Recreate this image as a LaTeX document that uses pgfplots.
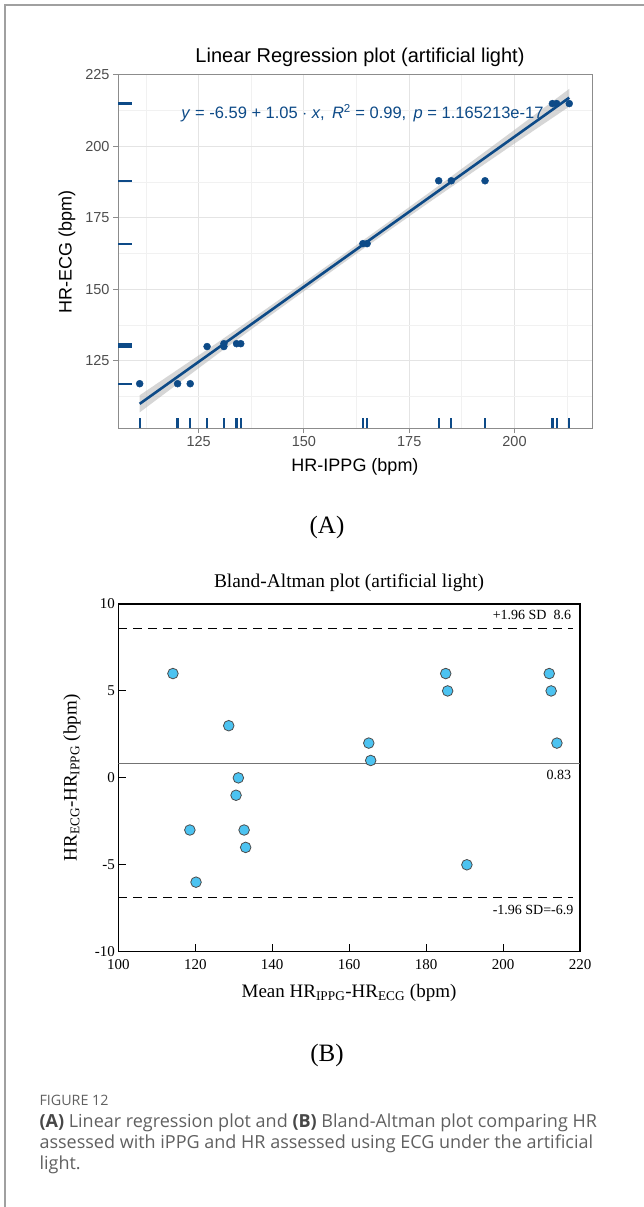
\documentclass[border=0pt]{standalone}
\usepackage{pgfplots}
\pgfplotsset{compat=1.18}
\usepackage{pgfplotstable}
\usepackage{fontspec}
\setmainfont{Liberation Serif}
\newfontfamily\arialfont{Liberation Sans}
\newfontfamily\capfont{Open Sans}

\definecolor{regblue}{HTML}{0D4A87}
\definecolor{ribbon}{HTML}{B4B4B4}
\definecolor{gridmaj}{HTML}{E4E4E4}
\definecolor{gridmin}{HTML}{F1F1F1}
\definecolor{panel}{HTML}{8C8C8C}
\definecolor{ticktxt}{HTML}{4D4D4D}
\definecolor{bafill}{HTML}{4CC3F1}
\definecolor{capgray}{HTML}{606060}
\definecolor{pageframe}{HTML}{A0A0A0}

% HR-IPPG vs HR-ECG (bpm)
\pgfplotstableread{
ippg ecg
111 117
120 117
123 117
127 130
131 130
131 131
134 131
135 131
164 166
165 166
182 188
185 188
193 188
209 215
210 215
213 215
}\regdata

% Bland-Altman: mean, difference
\pgfplotstableread{
mean diff
114.2 6
118.6 -3
120.2 -6
128.7 3
130.6 -1
131.2 0
132.7 -3
133.1 -4
165.1 2
165.6 1
185.1 6
185.6 5
190.6 -5
212.0 6
212.5 5
214.0 2
}\badata

\begin{document}
\begin{tikzpicture}
\path[use as bounding box] (0,0) rectangle (644pt,-1207pt);
\draw[pageframe, line width=1.5pt] (5pt,-1207pt) -- (5pt,-5pt) -- (644pt,-5pt);

% ---------- (A) linear regression ----------
\begin{axis}[
  at={(118pt,-428pt)}, anchor=south west, scale only axis,
  width=474pt, height=353pt,
  xmin=105.85, xmax=218.4, ymin=101.5, ymax=225,
  xtick={125,150,175,200}, ytick={125,150,175,200,225},
  minor xtick={112.5,137.5,162.5,187.5,212.5},
  minor ytick={112.5,137.5,162.5,187.5,212.5},
  grid=both,
  major grid style={gridmaj, line width=1pt},
  minor grid style={gridmin, line width=0.8pt},
  axis line style={panel, line width=1pt},
  tick align=outside, major tick length=5pt, minor tick length=0pt,
  tick style={panel, line width=1pt},
  xtick pos=left, ytick pos=left,
  tick label style={font=\arialfont\fontsize{14.5}{16}\selectfont, text=ticktxt},
  /pgf/number format/assume math mode=true,
]
\addplot[only marks, mark=*, mark size=3.5pt, regblue] table[x=ippg, y=ecg]{\regdata};
\addplot[fill=ribbon, draw=none, fill opacity=0.55] coordinates {
  (111,112.96) (120,121.91) (130,131.91) (140,142.11) (150,152.46) (160,162.91)
  (170,173.46) (180,184.11) (190,194.91) (200,205.81) (213,220.16)
  (213,213.96) (200,201.01) (190,190.91) (180,180.71) (170,170.36) (160,159.91)
  (150,149.36) (140,138.71) (130,127.91) (120,116.91) (111,106.96)} -- cycle;
\addplot[regblue, line width=2.6pt] coordinates {(111,109.96) (213,217.06)};
\addplot[only marks, mark=|, mark size=5pt, regblue, mark options={line width=2.2pt}]
  table[x=ippg, y expr=103.25]{\regdata};
\addplot[only marks, mark=-, mark size=7pt, regblue, mark options={line width=2.2pt}]
  table[x expr=107.5, y=ecg]{\regdata};
\node[text=regblue, font=\arialfont\fontsize{16.5}{18}\selectfont] at (axis cs:163.9,211.7)
  {\textit{y} = -6.59 + 1.05 $\cdot$ \textit{x},\, \textit{R}\textsuperscript{2} = 0.99,\, \textit{p} = 1.165213e-17};
\end{axis}
\node[font=\arialfont\fontsize{20}{22}\selectfont] at (360pt,-57pt) {Linear Regression plot (artificial light)};
\node[font=\arialfont\fontsize{18}{20}\selectfont] at (355pt,-466.5pt) {HR-IPPG (bpm)};
\node[font=\arialfont\fontsize{18}{20}\selectfont, rotate=90] at (67pt,-251.5pt) {HR-ECG (bpm)};
\node[font=\fontsize{25}{28}\selectfont] at (327pt,-527pt) {(A)};

% ---------- (B) Bland-Altman ----------
\begin{axis}[
  at={(118.3pt,-951.7pt)}, anchor=south west, scale only axis,
  width=461.7pt, height=347.7pt,
  xmin=100, xmax=220, ymin=-10, ymax=10,
  xtick={100,120,...,220}, ytick={-10,-5,0,5,10},
  axis line style={black, line width=1.3pt},
  tick align=inside, major tick length=8pt,
  tick style={black, line width=1.1pt},
  xtick pos=left, ytick pos=left,
  tick label style={font=\fontsize{15}{17}\selectfont},
  xticklabel style={yshift=-4pt},
  /pgf/number format/assume math mode=true,
]
\addplot[black, line width=1.2pt, dash pattern=on 9pt off 6pt] coordinates {(100,8.6) (218.3,8.6)};
\addplot[black, line width=1.2pt, dash pattern=on 9pt off 6pt] coordinates {(100,-6.9) (218.3,-6.9)};
\addplot[black!55, line width=1pt] coordinates {(100,0.83) (220,0.83)};
\addplot[only marks, mark=*, mark size=5.3pt, mark options={fill=bafill, draw=black!70, line width=0.8pt}]
  table[x=mean, y=diff]{\badata};
\node[anchor=east, font=\fontsize{14}{16}\selectfont] at (axis cs:218.6,9.37) {+1.96 SD\ \ 8.6};
\node[anchor=east, font=\fontsize{14}{16}\selectfont] at (axis cs:218.6,0.17) {0.83};
\node[anchor=east, font=\fontsize{14}{16}\selectfont] at (axis cs:219.2,-7.57) {-1.96 SD=-6.9};
\end{axis}
\node[font=\fontsize{19.4}{22}\selectfont] at (349pt,-583pt) {Bland-Altman plot (artificial light)};
\node[font=\fontsize{19}{22}\selectfont] at (349pt,-993pt) {Mean HR\textsubscript{IPPG}-HR\textsubscript{ECG} (bpm)};
\node[font=\fontsize{19}{22}\selectfont, rotate=90] at (72pt,-778pt) {HR\textsubscript{ECG}-HR\textsubscript{IPPG} (bpm)};
\node[font=\fontsize{25}{28}\selectfont] at (327pt,-1055pt) {(B)};

% ---------- caption ----------
\node[anchor=west, text=capgray, font=\capfont\fontsize{14.3}{16}\selectfont] at (36pt,-1100pt) {FIGURE 12};
\node[anchor=west, text=capgray, font=\capfont\fontsize{18}{20}\selectfont] at (36pt,-1123pt)
  {{\bfseries\color{black!72}(A)} Linear regression plot and {\bfseries\color{black!72}(B)} Bland-Altman plot comparing HR};
\node[anchor=west, text=capgray, font=\capfont\fontsize{18}{20}\selectfont] at (36pt,-1144pt)
  {assessed with iPPG and HR assessed using ECG under the artificial};
\node[anchor=west, text=capgray, font=\capfont\fontsize{18}{20}\selectfont] at (36pt,-1165pt) {light.};
\end{tikzpicture}
\end{document}
